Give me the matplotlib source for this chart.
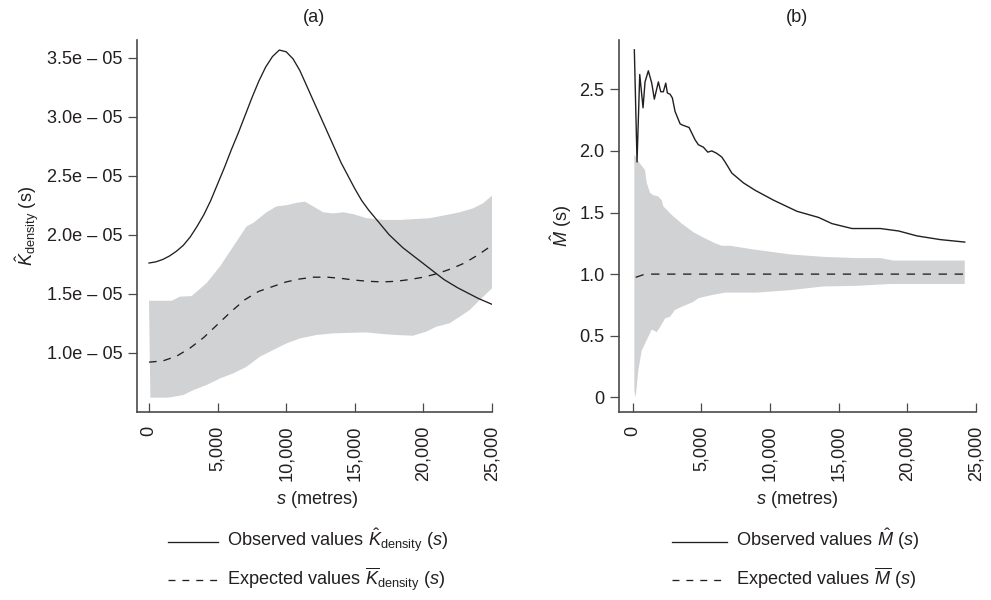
import numpy as np
import matplotlib
matplotlib.use("Agg")
import matplotlib.pyplot as plt
from matplotlib.lines import Line2D

plt.rcParams['font.family'] = ['Liberation Sans', 'DejaVu Sans']
plt.rcParams['mathtext.fontset'] = 'custom'
plt.rcParams['mathtext.rm'] = 'Liberation Sans'
plt.rcParams['mathtext.it'] = 'Liberation Sans:italic'
plt.rcParams['mathtext.bf'] = 'Liberation Sans:bold'
plt.rcParams['lines.scale_dashes'] = False

# ---------------- data: panel (a) ----------------
k_obs_s = [0, 500, 1000, 1500, 2000, 2500, 3000, 3500, 4000, 4500, 5000, 5500, 6000, 6500,
           7000, 7500, 8000, 8500, 9000, 9500, 10000, 10500, 11000, 11500, 12000, 12500,
           13000, 13500, 14000, 14500, 15000, 15500, 16000, 16500, 17000, 17500, 18000,
           18500, 19000, 19500, 20000, 20500, 21000, 21500, 22000, 22500, 23000, 23500,
           24000, 24500, 25000]
k_obs = [1.76, 1.77, 1.79, 1.82, 1.86, 1.91, 1.98, 2.07, 2.17, 2.29, 2.43, 2.57, 2.72, 2.86,
         3.01, 3.16, 3.30, 3.42, 3.51, 3.565, 3.55, 3.49, 3.39, 3.26, 3.13, 3.00,
         2.87, 2.74, 2.61, 2.50, 2.39, 2.29, 2.21, 2.14, 2.07, 2.00, 1.945,
         1.89, 1.845, 1.80, 1.755, 1.71, 1.665, 1.62, 1.585, 1.55, 1.52, 1.49,
         1.46, 1.435, 1.41]

k_exp_s = [0, 1000, 2000, 3000, 4000, 5000, 6000, 7000, 8000, 9000, 10000, 11000, 12000,
           13000, 14000, 15000, 16000, 17000, 18000, 19000, 20000, 21000, 22000, 23000,
           24000, 25000]
k_exp = [0.92, 0.93, 0.97, 1.04, 1.13, 1.24, 1.35, 1.45, 1.52, 1.56, 1.60, 1.625, 1.64,
         1.64, 1.63, 1.615, 1.605, 1.60, 1.605, 1.62, 1.64, 1.67, 1.71, 1.76,
         1.83, 1.91]

k_up_s = [0, 1650, 2257, 3107, 4199, 5170, 6141, 7112, 7597, 8568, 9296, 10024, 10752,
          11359, 11966, 12694, 13422, 14150, 14879, 15850, 17063, 18277, 20461, 21675,
          22646, 23617, 24345, 25000]
k_up = [1.44, 1.44, 1.475, 1.48, 1.59, 1.73, 1.90, 2.07, 2.10, 2.19, 2.24, 2.25, 2.27,
        2.28, 2.24, 2.19, 2.18, 2.19, 2.175, 2.14, 2.125, 2.125, 2.14, 2.167,
        2.19, 2.223, 2.266, 2.331]

k_lo_s = [100, 1400, 2500, 3250, 4199, 5170, 6141, 7112, 8083, 9053, 10024, 11000, 12200,
          13400, 14870, 15850, 17063, 18030, 19240, 20200, 20940, 21900, 22650, 23380,
          24100, 25000]
k_lo = [0.619, 0.619, 0.641, 0.684, 0.726, 0.782, 0.825, 0.881, 0.966, 1.023, 1.079,
        1.121, 1.150, 1.164, 1.169, 1.172, 1.158, 1.150, 1.144, 1.178, 1.220, 1.249,
        1.305, 1.362, 1.446, 1.545]

# ---------------- data: panel (b) ----------------
m_obs_s = [117, 313, 510, 751, 896, 1137, 1385, 1574, 1866, 2041, 2230, 2405, 2522, 2719,
           2886, 3083, 3448, 3615, 4103, 4541, 4781, 5146, 5466, 5758, 6122, 6487, 6727,
           7218, 8068, 8919, 10255, 11956, 13535, 14507, 15966, 18031, 19368, 20705,
           22406, 24179]
m_obs = [2.82, 1.91, 2.62, 2.35, 2.56, 2.65, 2.55, 2.42, 2.56, 2.48, 2.48, 2.55, 2.47,
         2.46, 2.43, 2.32, 2.22, 2.21, 2.19, 2.09, 2.05, 2.03, 1.99, 2.00, 1.98, 1.95,
         1.91, 1.82, 1.74, 1.68, 1.60, 1.51, 1.46, 1.41, 1.37, 1.37, 1.35, 1.31,
         1.28, 1.26]

m_exp_s = [216, 897, 24179]
m_exp = [0.974, 1.0, 1.0]

m_up_s = [117, 510, 897, 1020, 1261, 1506, 1866, 2114, 2230, 2842, 3571, 4420, 5270,
          6000, 6487, 7093, 8793, 11465, 13896, 16326, 18028, 18994, 24179]
m_up = [1.97, 1.90, 1.845, 1.74, 1.66, 1.64, 1.63, 1.60, 1.55, 1.48, 1.41, 1.34, 1.29,
        1.25, 1.23, 1.23, 1.20, 1.16, 1.14, 1.13, 1.13, 1.11, 1.11]

m_lo_s = [117, 216, 408, 656, 1020, 1385, 1749, 1990, 2354, 2719, 3083, 3571, 4420,
          4785, 5758, 6727, 9038, 11465, 13896, 16326, 18757, 24179]
m_lo = [0.05, 0.0, 0.22, 0.38, 0.465, 0.55, 0.53, 0.57, 0.64, 0.655, 0.71, 0.735, 0.775,
        0.805, 0.83, 0.85, 0.85, 0.87, 0.90, 0.905, 0.92, 0.92]

x_ticks = [0, 5000, 10000, 15000, 20000, 25000]
x_tick_labels = ['0', '5,000', '10,000', '15,000', '20,000', '25,000']
k_yticks = [1.0e-5, 1.5e-5, 2.0e-5, 2.5e-5, 3.0e-5, 3.5e-5]
k_ytick_labels = ['1.0e \u2013 05', '1.5e \u2013 05', '2.0e \u2013 05',
                  '2.5e \u2013 05', '3.0e \u2013 05', '3.5e \u2013 05']
m_yticks = [0, 0.5, 1.0, 1.5, 2.0, 2.5]
m_ytick_labels = ['0', '0.5', '1.0', '1.5', '2.0', '2.5']

# ---------------- styling ----------------
INK = '#231f20'
AXC = '#4a4a4a'
BAND = '#d1d2d4'
FS = 13.1
W, H = 991, 600

fig = plt.figure(figsize=(W / 100, H / 100), dpi=100)
fig.patch.set_facecolor('white')

def px(x, y):
    return x / W, 1 - y / H

axL = fig.add_axes([137 / W, 1 - 412 / H, 355 / W, 372 / H])
axR = fig.add_axes([619 / W, 1 - 412 / H, 357 / W, 372 / H])

def style(ax):
    for sp in ['top', 'right']:
        ax.spines[sp].set_visible(False)
    for sp in ['left', 'bottom']:
        ax.spines[sp].set_linewidth(1.2)
        ax.spines[sp].set_color(AXC)
    ax.tick_params(axis='y', direction='out', length=6.5, width=0.9, pad=4.0,
                   color=AXC, labelcolor=INK, labelsize=FS)
    ax.tick_params(axis='x', direction='in', length=6.5, width=0.9, pad=10,
                   color=AXC, labelcolor=INK, labelsize=FS)
    ax.set_facecolor('white')

scale = 1e-5
# panel (a)
axL.fill(np.concatenate([k_up_s, k_lo_s[::-1]]),
         np.concatenate([np.array(k_up), np.array(k_lo[::-1])]) * scale,
         color=BAND, lw=0, zorder=1)
axL.plot(k_obs_s, np.array(k_obs) * scale, color=INK, lw=0.95, zorder=3)
axL.plot(k_exp_s, np.array(k_exp) * scale, color=INK, lw=0.95, dashes=(5.5, 5), zorder=3)
axL.set_xlim(-875, 25000)
axL.set_ylim(0.4975e-5, 3.65e-5)
axL.set_xticks(x_ticks)
axL.set_xticklabels(x_tick_labels, rotation=90)
axL.set_yticks(k_yticks)
axL.set_yticklabels(k_ytick_labels)
style(axL)

# panel (b)
axR.fill(np.concatenate([m_up_s, m_lo_s[::-1]]),
         np.concatenate([m_up, m_lo[::-1]]),
         color=BAND, lw=0, zorder=1)
axR.plot(m_obs_s, m_obs, color=INK, lw=1.0, zorder=3)
axR.plot(m_exp_s, m_exp, color=INK, lw=0.95, dashes=(6, 5.5), zorder=3)
axR.set_xlim(-1000, 25000)
axR.set_ylim(-0.119, 2.90)
axR.set_xticks(x_ticks)
axR.set_xticklabels(x_tick_labels, rotation=90)
axR.set_yticks(m_yticks)
axR.set_yticklabels(m_ytick_labels)
style(axR)

# titles
fig.text(*px(314, 17), '(a)', ha='center', va='center', fontsize=FS, color=INK)
fig.text(*px(797, 17), '(b)', ha='center', va='center', fontsize=FS, color=INK)

# y labels
fig.text(*px(27, 226), r'$\hat{K}_{\mathrm{density}}$ (s)', rotation=90,
         ha='center', va='center', fontsize=FS, color=INK)
fig.text(*px(561, 226), r'$\hat{M}$ (s)', rotation=90,
         ha='center', va='center', fontsize=FS, color=INK)

# x labels
fig.text(*px(317, 500), r'$s$ (metres)', ha='center', va='center', fontsize=FS, color=INK)
fig.text(*px(797, 500), r'$s$ (metres)', ha='center', va='center', fontsize=FS, color=INK)

# legends
def legend_row(x0, x1, y, text, dashed):
    kw = dict(color=INK, lw=0.95, transform=fig.transFigure)
    if dashed:
        kw['dashes'] = (5, 5)
    fig.add_artist(Line2D([x0 / W, x1 / W], [1 - y / H, 1 - y / H], **kw))
    fig.text((x1 + 9) / W, 1 - (y + 5) / H, text, ha='left', va='baseline',
             fontsize=FS, color=INK)

legend_row(168, 218, 541.5, r'Observed values $\hat{K}_{\mathrm{density}}$ ($s$)', False)
legend_row(168, 218, 580, r'Expected values $\overline{K}_{\mathrm{density}}$ ($s$)', True)
legend_row(672, 727, 541.5, r'Observed values $\hat{M}$ ($s$)', False)
legend_row(672, 727, 580, r'Expected values $\overline{M}$ ($s$)', True)

fig.savefig('out.png', dpi=100, facecolor='white')
